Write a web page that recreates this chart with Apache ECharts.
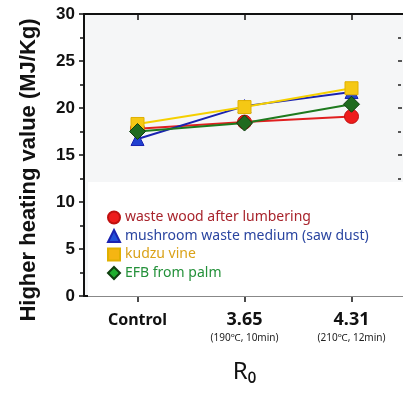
<!DOCTYPE html>
<html>
<head>
<meta charset="utf-8">
<script src="https://cdn.jsdelivr.net/npm/echarts@6/dist/echarts.min.js"></script>
<style>
  html, body { margin: 0; padding: 0; background: #fff; }
  #chart { width: 403px; height: 394px; }
</style>
</head>
<body>
<div id="chart"></div>
<script>
const categories = ['Control', '3.65', '4.31'];
const conditions = ['', '(190℃, 10min)', '(210℃, 12min)'];
const yTicks = { min: 0, max: 30, interval: 5 };

const wasteWood = [17.8, 18.5, 19.1];
const mushroomWaste = [16.7, 20.2, 21.7];
const kudzuVine = [18.3, 20.1, 22.1];
const efbPalm = [17.5, 18.4, 20.4];

const seriesNames = [
  'waste wood after lumbering',
  'mushroom waste medium (saw dust)',
  'kudzu vine',
  'EFB from palm'
];

const chart = echarts.init(document.getElementById('chart'));

const option = {
  grid: {
    left: 84, top: 14, width: 321, height: 282,
    outerBoundsMode: 'none',
    show: true,
    backgroundColor: '#f5f6f7',
    borderWidth: 0
  },
  legend: {
    orient: 'vertical',
    left: 88, top: 182,
    padding: [28, 40, 16, 19],
    backgroundColor: '#fff',
    itemWidth: 12, itemHeight: 12, itemGap: 3.5,
    textStyle: { fontFamily: 'Noto Sans', fontSize: 14, lineHeight: 15 },
    data: [
      { name: seriesNames[0], icon: 'circle', itemStyle: { color: '#ee1c1c' }, textStyle: { color: '#a8242c' } },
      { name: seriesNames[1], icon: 'triangle', itemStyle: { color: '#2350d8' }, textStyle: { color: '#2a45a0' } },
      { name: seriesNames[2], icon: 'rect', itemStyle: { color: '#f5b512' }, textStyle: { color: '#daa218' } },
      { name: seriesNames[3], icon: 'diamond', itemStyle: { color: '#1fae2e' }, textStyle: { color: '#24913a' } }
    ]
  },
  xAxis: [
    {
      type: 'category',
      data: categories,
      position: 'bottom',
      axisLine: { show: true, onZero: false, lineStyle: { color: '#111', width: 2 } },
      axisTick: { show: true, alignWithLabel: true, length: 6, lineStyle: { color: '#111', width: 1.5 } },
      axisLabel: {
        show: true,
        interval: 0,
        margin: 13,
        formatter: function (v, i) {
          return conditions[i] ? '{a|' + v + '}\n{b|' + conditions[i] + '}' : '{c|' + v + '}';
        },
        rich: {
          a: { fontFamily: 'Noto Sans', fontWeight: 'bold', fontSize: 18, color: '#111', lineHeight: 22 },
          c: { fontFamily: 'Noto Sans', fontWeight: 'bold', fontSize: 16, color: '#111', lineHeight: 22 },
          b: { fontFamily: 'Noto Sans', fontSize: 10, color: '#222', lineHeight: 14 }
        }
      },
      name: 'R₀',
      nameLocation: 'middle',
      nameGap: 64,
      nameTextStyle: { fontFamily: 'Noto Sans', fontSize: 24, color: '#111' }
    },
    {
      type: 'category',
      data: categories,
      position: 'top',
      axisLine: { show: true, onZero: false, lineStyle: { color: '#111', width: 2 } },
      axisTick: { show: true, inside: true, alignWithLabel: true, length: 6, lineStyle: { color: '#111', width: 1.5 } },
      axisLabel: { show: false }
    }
  ],
  yAxis: [
    {
      type: 'value',
      min: yTicks.min, max: yTicks.max, interval: yTicks.interval,
      position: 'left',
      axisLine: { show: true, lineStyle: { color: '#111', width: 2 } },
      axisTick: { show: true, length: 5, lineStyle: { color: '#111', width: 1.5 } },
      minorTick: { show: true, splitNumber: 2, length: 4, lineStyle: { color: '#111', width: 1.5 } },
      splitLine: { show: false },
      axisLabel: {
        margin: 9, color: '#111',
        fontFamily: 'Liberation Sans', fontWeight: 'bold', fontSize: 17
      },
      name: 'Higher heating value (MJ/Kg)',
      nameLocation: 'middle',
      nameGap: 44,
      nameTextStyle: {
        fontFamily: 'Liberation Sans', fontWeight: 'bold', fontSize: 22, color: '#111',
        padding: [0, 30, 0, 0]
      }
    },
    {
      type: 'value',
      min: yTicks.min, max: yTicks.max, interval: yTicks.interval,
      position: 'right',
      offset: -7,
      axisLine: { show: false },
      axisTick: { show: true, length: 4, lineStyle: { color: '#222', width: 1.5 } },
      minorTick: { show: true, splitNumber: 2, length: 3, lineStyle: { color: '#222', width: 1.5 } },
      splitLine: { show: false },
      axisLabel: { show: false }
    },
    {
      // frame lines along the top (30) and bottom (0) of the plot
      type: 'value',
      min: yTicks.min, max: yTicks.max, interval: yTicks.max,
      position: 'right',
      axisLine: { show: false },
      axisTick: { show: false },
      axisLabel: { show: false },
      splitLine: { show: true, lineStyle: { color: '#111', width: 2 } },
      z: 3
    }
  ],
  series: [
    {
      name: seriesNames[0], type: 'line', data: wasteWood,
      symbol: 'circle', symbolSize: 14,
      lineStyle: { color: '#e01f1f', width: 2 },
      itemStyle: { color: '#ee1c1c', borderColor: '#c01010', borderWidth: 1 }
    },
    {
      name: seriesNames[1], type: 'line', data: mushroomWaste,
      symbol: 'triangle', symbolSize: 13,
      lineStyle: { color: '#1a22b0', width: 2 },
      itemStyle: { color: '#2040d0', borderColor: '#1a22b0', borderWidth: 1 }
    },
    {
      name: seriesNames[2], type: 'line', data: kudzuVine,
      symbol: 'rect', symbolSize: 13,
      lineStyle: { color: '#f5d000', width: 2 },
      itemStyle: { color: '#f5c814', borderColor: '#e0b000', borderWidth: 1 }
    },
    {
      name: seriesNames[3], type: 'line', data: efbPalm,
      symbol: 'diamond', symbolSize: 16,
      lineStyle: { color: '#1e7a1e', width: 2 },
      itemStyle: { color: '#1f6b1f', borderColor: '#0f3f0f', borderWidth: 1 }
    }
  ]
};

chart.setOption(option);
</script>
</body>
</html>
